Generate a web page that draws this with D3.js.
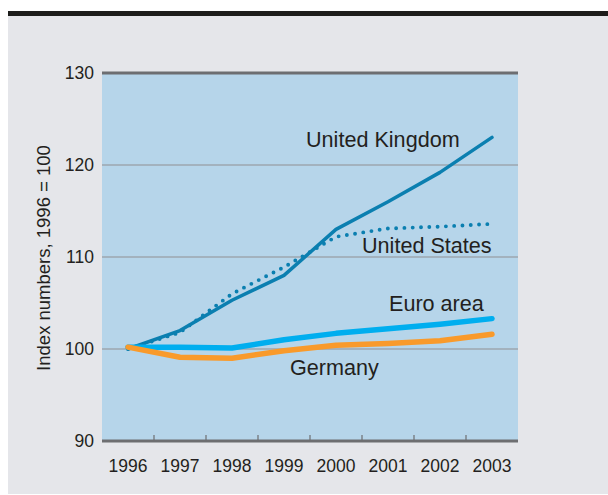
<!DOCTYPE html>
<html>
<head>
<meta charset="utf-8">
<script src="https://cdn.jsdelivr.net/npm/d3@7"></script>
<style>
  body { margin: 0; background: #fff; }
  text { font-family: "Liberation Sans", Arial, Helvetica, sans-serif; fill: #231f20; }
</style>
</head>
<body>
<div id="chart"></div>
<script>
// years on the x axis
let years = [1996, 1997, 1998, 1999, 2000, 2001, 2002, 2003];
let yTicks = [90, 100, 110, 120, 130];

// index numbers, 1996 = 100
let ukValues = [100.0, 102.0, 105.3, 108.0, 113.0, 116.0, 119.2, 123.0];
let usValues = [100.0, 101.8, 106.0, 108.9, 112.2, 113.1, 113.3, 113.6];
let euroValues = [100.2, 100.2, 100.1, 101.0, 101.7, 102.2, 102.7, 103.3];
let germanyValues = [100.2, 99.1, 99.0, 99.8, 100.4, 100.6, 100.9, 101.6];

let W = 608, H = 495;

let svg = d3.select("#chart").append("svg")
    .attr("width", W)
    .attr("height", H);

// page frame: black rule + grey panel
svg.append("rect").attr("x", 8).attr("y", 11).attr("width", W - 8).attr("height", 5).attr("fill", "#1d1d1b");
svg.append("rect").attr("x", 8).attr("y", 16).attr("width", W - 8).attr("height", 478).attr("fill", "#e5e6ea");

let x = d3.scaleBand()
    .domain(years)
    .range([102, 518]);

let y = d3.scaleLinear()
    .domain([90, 130])
    .range([441, 73]);

let cx = d => x(d) + x.bandwidth() / 2;

// plot background
svg.append("rect")
    .attr("x", x.range()[0])
    .attr("y", y(130))
    .attr("width", x.range()[1] - x.range()[0])
    .attr("height", y(90) - y(130))
    .attr("fill", "#b6d5ea");

// gridlines
svg.selectAll("line.grid")
    .data(yTicks.filter(d => d > 90 && d < 130))
    .enter()
    .append("line")
    .attr("class", "grid")
    .attr("x1", x.range()[0])
    .attr("x2", x.range()[1])
    .attr("y1", d => y(d))
    .attr("y2", d => y(d))
    .attr("stroke", "#8f9092")
    .attr("stroke-width", 1.2);

// top and bottom rules
[130, 90].forEach(v => {
    svg.append("line")
        .attr("x1", x.range()[0])
        .attr("x2", x.range()[1])
        .attr("y1", y(v))
        .attr("y2", y(v))
        .attr("stroke", "#6d6e71")
        .attr("stroke-width", 3);
});

// x tick marks between the years
svg.selectAll("line.xtick")
    .data(years.slice(1))
    .enter()
    .append("line")
    .attr("class", "xtick")
    .attr("x1", d => x(d))
    .attr("x2", d => x(d))
    .attr("y1", y(90) - 6)
    .attr("y2", y(90))
    .attr("stroke", "#6d6e71")
    .attr("stroke-width", 1.2);

// axis labels
svg.selectAll("text.ylab")
    .data(yTicks)
    .enter()
    .append("text")
    .attr("class", "ylab")
    .attr("x", 94)
    .attr("y", d => y(d))
    .attr("dy", "0.35em")
    .attr("text-anchor", "end")
    .style("font-size", "17.5px")
    .text(d => d);

svg.selectAll("text.xlab")
    .data(years)
    .enter()
    .append("text")
    .attr("class", "xlab")
    .attr("x", d => cx(d))
    .attr("y", 472)
    .attr("text-anchor", "middle")
    .style("font-size", "17.5px")
    .text(d => d);

svg.append("text")
    .attr("transform", "translate(50," + 258 + ") rotate(-90)")
    .attr("text-anchor", "middle")
    .style("font-size", "18.5px")
    .text("Index numbers, 1996 = 100");

// series lines
let line = d3.line()
    .x((d, i) => cx(years[i]))
    .y(d => y(d));

let series = [
    {name: "uk", values: ukValues, color: "#0b7fb0", width: 3.5, dash: null},
    {name: "us", values: usValues, color: "#0b7fb0", width: 3.9, dash: "0,8.3"},
    {name: "euro", values: euroValues, color: "#00aeef", width: 5.5, dash: null},
    {name: "germany", values: germanyValues, color: "#f99a2b", width: 5.5, dash: null}
];

svg.selectAll("path.series")
    .data(series)
    .enter()
    .append("path")
    .attr("class", "series")
    .attr("d", d => line(d.values))
    .attr("fill", "none")
    .attr("stroke", d => d.color)
    .attr("stroke-width", d => d.width)
    .attr("stroke-linecap", "round")
    .attr("stroke-linejoin", "round")
    .attr("stroke-dasharray", d => d.dash);

// direct labels
let labels = [
    {text: "United Kingdom", x: 306, y: 147},
    {text: "United States", x: 362, y: 253},
    {text: "Euro area", x: 389, y: 311},
    {text: "Germany", x: 290, y: 375}
];

svg.selectAll("text.series-label")
    .data(labels)
    .enter()
    .append("text")
    .attr("class", "series-label")
    .attr("x", d => d.x)
    .attr("y", d => d.y)
    .style("font-size", "21.6px")
    .text(d => d.text);
</script>
</body>
</html>
